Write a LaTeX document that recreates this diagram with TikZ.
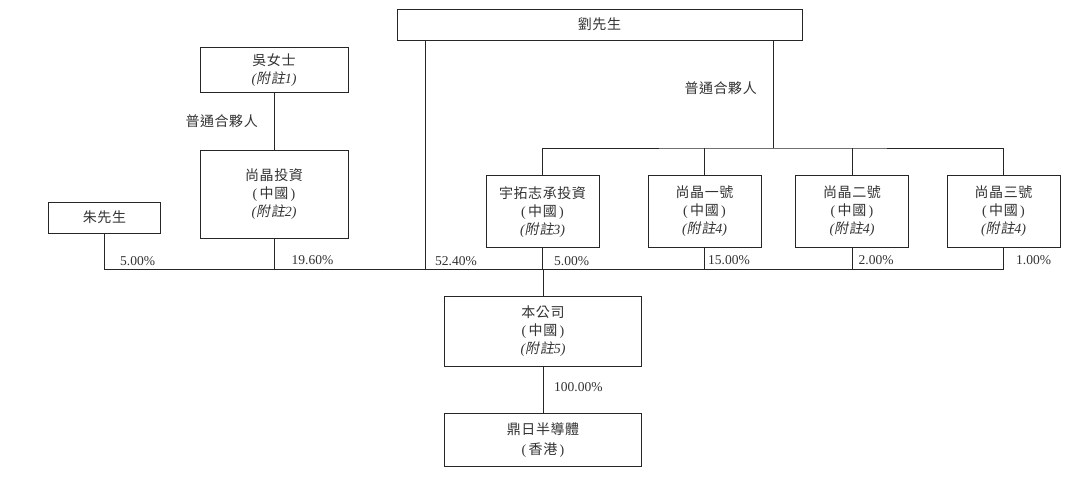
\documentclass[tikz,border=0pt]{standalone}
\usepackage{fontspec}
\setmainfont{Liberation Serif}
\newfontfamily\cjk{Noto Sans CJK TC}[LetterSpace=4]
\newfontfamily\cjkit{Noto Sans CJK TC}[FakeSlant=0.2,LetterSpace=4]
\usetikzlibrary{calc}
\newcommand{\fuzhu}[1]{{\rmfamily\itshape(}{\cjkit 附註}{\rmfamily\itshape #1)}}
\newcommand{\zhongguo}{{\rmfamily(}\,中國\,{\rmfamily)}}
\tikzset{
  box/.style={draw=black!85, line width=1pt, inner sep=0pt, align=center,
    font=\cjk\fontsize{14}{18}\selectfont, text=black!80},
  con/.style={draw=black!85, line width=1pt},
  pct/.style={font=\fontsize{13.5}{16}\selectfont, inner sep=0pt, anchor=west, text=black!80},
  lbl/.style={font=\cjk\fontsize{14}{16}\selectfont, inner sep=0pt, text=black!80}
}
\begin{document}
\begin{tikzpicture}[x=1pt, y=-1pt]
\useasboundingbox (0,0) rectangle (1080,479);
\fill[white] (0,0) rectangle (1080,479);
% boxes
\node[box, minimum width=405pt, minimum height=31pt] (liu) at (599.5,24.5) {劉先生};
\node[box, minimum width=148pt, minimum height=45.5pt] (wu) at (274,69.8) {吳女士\\\fuzhu{1}};
\node[box, minimum width=148pt, minimum height=88pt] (sjtz) at (274,194) {尚晶投資\\\zhongguo\\\fuzhu{2}};
\node[box, minimum width=112pt, minimum height=31pt] (zhu) at (104.5,217.5) {朱先生};
\node[box, minimum width=113pt, minimum height=72pt] (yt) at (542.5,211.6) {宇拓志承投資\\\zhongguo\\\fuzhu{3}};
\node[box, minimum width=113pt, minimum height=72pt] (sj1) at (704.5,211.6) {尚晶一號\\\zhongguo\\\fuzhu{4}};
\node[box, minimum width=113pt, minimum height=72pt] (sj2) at (852,211.6) {尚晶二號\\\zhongguo\\\fuzhu{4}};
\node[box, minimum width=113pt, minimum height=72pt] (sj3) at (1003.5,211.6) {尚晶三號\\\zhongguo\\\fuzhu{4}};
\node[box, minimum width=197.5pt, minimum height=69.3pt] (gs) at (543,331.4) {本公司\\\zhongguo\\\fuzhu{5}};
\node[box, minimum width=197.5pt, minimum height=52.7pt, font=\cjk\fontsize{14}{20}\selectfont] (dr) at (543,439.7) {鼎日半導體\\{\rmfamily(}\,香港\,{\rmfamily)}};
% junctions
\coordinate (tb) at (773,148);
\coordinate (bb) at (543,269.5);
\coordinate (liuL) at (425,269.5);
% connectors
\draw[con] (liu.south -| tb) -- (tb);
\draw[con] (yt.north) |- (tb) -| (sj3.north);
\draw[con] (sj1.north) -- (sj1.north |- tb);
\draw[con] (sj2.north) -- (sj2.north |- tb);
\draw[con] (wu.south) -- (sjtz.north);
\draw[con] (zhu.south) |- (bb) -| (sj3.south);
\draw[con] (sjtz.south) -- (sjtz.south |- bb);
\draw[con] (liu.south -| liuL) -- (liuL);
\draw[con] (yt.south) -- (yt.south |- bb);
\draw[con] (sj1.south) -- (sj1.south |- bb);
\draw[con] (sj2.south) -- (sj2.south |- bb);
\draw[con] (bb) -- (gs.north);
\draw[con] (gs.south) -- (dr.north);
% labels
\node[lbl, anchor=east] (gpL) at (258,121) {普通合夥人};
\node[lbl, anchor=east] (gpR) at (757,88.5) {普通合夥人};
\node[pct] (p1) at (120,261) {5.00\%};
\node[pct] (p2) at (291.5,260.5) {19.60\%};
\node[pct] (p3) at (435,261) {52.40\%};
\node[pct] (p4) at (554,261) {5.00\%};
\node[pct] (p5) at (708,260.5) {15.00\%};
\node[pct] (p6) at (858.5,260.5) {2.00\%};
\node[pct] (p7) at (1016,260) {1.00\%};
\node[pct] (p8) at (554,387.3) {100.00\%};
\end{tikzpicture}
\end{document}
